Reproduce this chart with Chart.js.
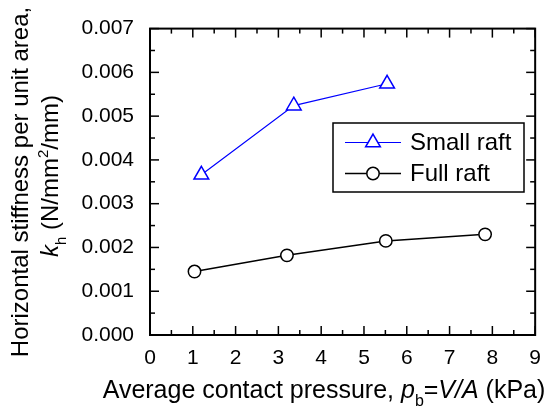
<!DOCTYPE html>
<html>
<head>
<meta charset="utf-8">
<script src="https://cdn.jsdelivr.net/npm/chart.js@4.4.1/dist/chart.umd.min.js"></script>
<style>
  html, body { margin: 0; padding: 0; background: #fff; }
</style>
</head>
<body>
<canvas id="chart" width="552" height="407"></canvas>
<script>
// data
const smallRaftX = [1.2, 3.36, 5.54];
const smallRaftY = [0.00366, 0.00524, 0.00574];
const fullRaftX = [1.04, 3.2, 5.51, 7.83];
const fullRaftY = [0.00145, 0.00182, 0.00215, 0.0023];

const xTicks = [0, 1, 2, 3, 4, 5, 6, 7, 8, 9];
const yTicks = [0, 0.001, 0.002, 0.003, 0.004, 0.005, 0.006, 0.007];

const FONT = '"Liberation Sans", Arial, sans-serif';

function toPoints(xs, ys) {
  return xs.map((x, i) => ({ x: x, y: ys[i] }));
}

// text with italic / subscript / superscript pieces
function setFont(ctx, p, size) {
  const s = (p.sub || p.sup) ? Math.round(size * 0.62) : size;
  ctx.font = (p.it ? 'italic ' : '') + s + 'px ' + FONT;
}
function richWidth(ctx, parts, size) {
  let w = 0;
  parts.forEach(p => { setFont(ctx, p, size); w += ctx.measureText(p.t).width; });
  return w;
}
function drawRich(ctx, parts, x, y, size) {
  parts.forEach(p => {
    setFont(ctx, p, size);
    const dy = p.sub ? size * 0.32 : (p.sup ? -size * 0.42 : 0);
    ctx.fillText(p.t, x, y + dy);
    x += ctx.measureText(p.t).width;
  });
}

const xTitle = [
  { t: 'Average contact pressure, ' }, { t: 'p', it: true }, { t: 'b', sub: true },
  { t: '=' }, { t: 'V/A', it: true }, { t: ' (kPa)' }
];
const yTitle1 = [{ t: 'Horizontal stiffness per unit area,' }];
const yTitle2 = [
  { t: 'k', it: true }, { t: 'h', sub: true }, { t: ' (N/mm' }, { t: '2', sup: true }, { t: '/mm)' }
];

const framePlugin = {
  id: 'frame',
  afterDraw(chart) {
    const { ctx, chartArea: a, scales: { x, y } } = chart;
    ctx.save();
    ctx.strokeStyle = '#000';
    ctx.fillStyle = '#000';
    ctx.lineWidth = 1.5;
    const seg = (x1, y1, x2, y2) => { ctx.beginPath(); ctx.moveTo(x1, y1); ctx.lineTo(x2, y2); ctx.stroke(); };

    // inward ticks, major and minor, on all four sides
    for (let i = 0; i <= 18; i++) {
      const px = x.getPixelForValue(i * 0.5);
      const len = i % 2 === 0 ? 9 : 5;
      seg(px, a.bottom, px, a.bottom - len);
      seg(px, a.top, px, a.top + len);
    }
    for (let i = 0; i <= 14; i++) {
      const py = y.getPixelForValue(i * 0.0005);
      const len = i % 2 === 0 ? 9 : 5;
      seg(a.left, py, a.left + len, py);
      seg(a.right, py, a.right - len, py);
    }
    ctx.lineWidth = 2;
    ctx.strokeRect(a.left, a.top, a.right - a.left, a.bottom - a.top);

    // axis titles
    ctx.textBaseline = 'alphabetic';
    ctx.textAlign = 'left';
    const xs = 25;
    const xw = richWidth(ctx, xTitle, xs);
    drawRich(ctx, xTitle, 324 - xw / 2, 398, xs);

    const ys = 24;
    [[yTitle1, 28, 182], [yTitle2, 58, 176]].forEach(([parts, bx, cy]) => {
      const w = richWidth(ctx, parts, ys);
      ctx.save();
      ctx.translate(bx, cy);
      ctx.rotate(-Math.PI / 2);
      drawRich(ctx, parts, -w / 2, 0, ys);
      ctx.restore();
    });

    // legend box
    const lx = 333, ly = 123, lw = 191, lh = 69;
    ctx.fillStyle = '#fff';
    ctx.fillRect(lx, ly, lw, lh);
    ctx.lineWidth = 1.5;
    ctx.strokeRect(lx, ly, lw, lh);
    const rows = [142.5, 173.5];
    chart.data.datasets.forEach((ds, i) => {
      const ry = rows[i];
      ctx.strokeStyle = ds.borderColor;
      ctx.lineWidth = ds.borderWidth;
      seg(345, ry, 401, ry);
      ctx.fillStyle = '#fff';
      ctx.strokeStyle = ds.pointBorderColor;
      ctx.lineWidth = ds.pointBorderWidth;
      Chart.helpers.drawPoint(ctx, {
        pointStyle: ds.pointStyle, radius: ds.pointRadius,
        borderWidth: ds.pointBorderWidth, rotation: 0
      }, 373, ry);
      ctx.fillStyle = '#000';
      ctx.font = '24px ' + FONT;
      ctx.textBaseline = 'middle';
      ctx.fillText(ds.label, 410, ry + 1);
    });
    ctx.restore();
  }
};

new Chart(document.getElementById('chart'), {
  type: 'line',
  data: {
    datasets: [
      {
        label: 'Small raft',
        data: toPoints(smallRaftX, smallRaftY),
        borderColor: '#0000ff',
        borderWidth: 1.2,
        pointStyle: 'triangle',
        pointRadius: 8.5,
        pointBorderWidth: 1.5,
        pointBorderColor: '#0000ff',
        pointBackgroundColor: '#fff',
        tension: 0
      },
      {
        label: 'Full raft',
        data: toPoints(fullRaftX, fullRaftY),
        borderColor: '#000',
        borderWidth: 1.5,
        pointStyle: 'circle',
        pointRadius: 6.2,
        pointBorderWidth: 1.5,
        pointBorderColor: '#000',
        pointBackgroundColor: '#fff',
        tension: 0
      }
    ]
  },
  options: {
    responsive: false,
    animation: false,
    events: [],
    devicePixelRatio: 1,
    layout: { padding: { top: 18, right: 7, left: 0, bottom: 0 } },
    plugins: { legend: { display: false }, tooltip: { enabled: false } },
    scales: {
      x: {
        type: 'linear',
        min: 0,
        max: 9,
        afterBuildTicks: s => { s.ticks = xTicks.map(v => ({ value: v })); },
        afterFit: s => { s.height = 72; },
        grid: { display: false, drawTicks: false },
        border: { display: false },
        ticks: {
          padding: 11,
          color: '#000',
          font: { family: FONT, size: 21 },
          maxRotation: 0
        }
      },
      y: {
        type: 'linear',
        min: 0,
        max: 0.007,
        afterBuildTicks: s => { s.ticks = yTicks.map(v => ({ value: v })); },
        afterFit: s => { s.width = 150; },
        grid: { display: false, drawTicks: false },
        border: { display: false },
        ticks: {
          padding: 16,
          color: '#000',
          font: { family: FONT, size: 21 },
          callback: v => v.toFixed(3)
        }
      }
    }
  },
  plugins: [framePlugin]
});
</script>
</body>
</html>
